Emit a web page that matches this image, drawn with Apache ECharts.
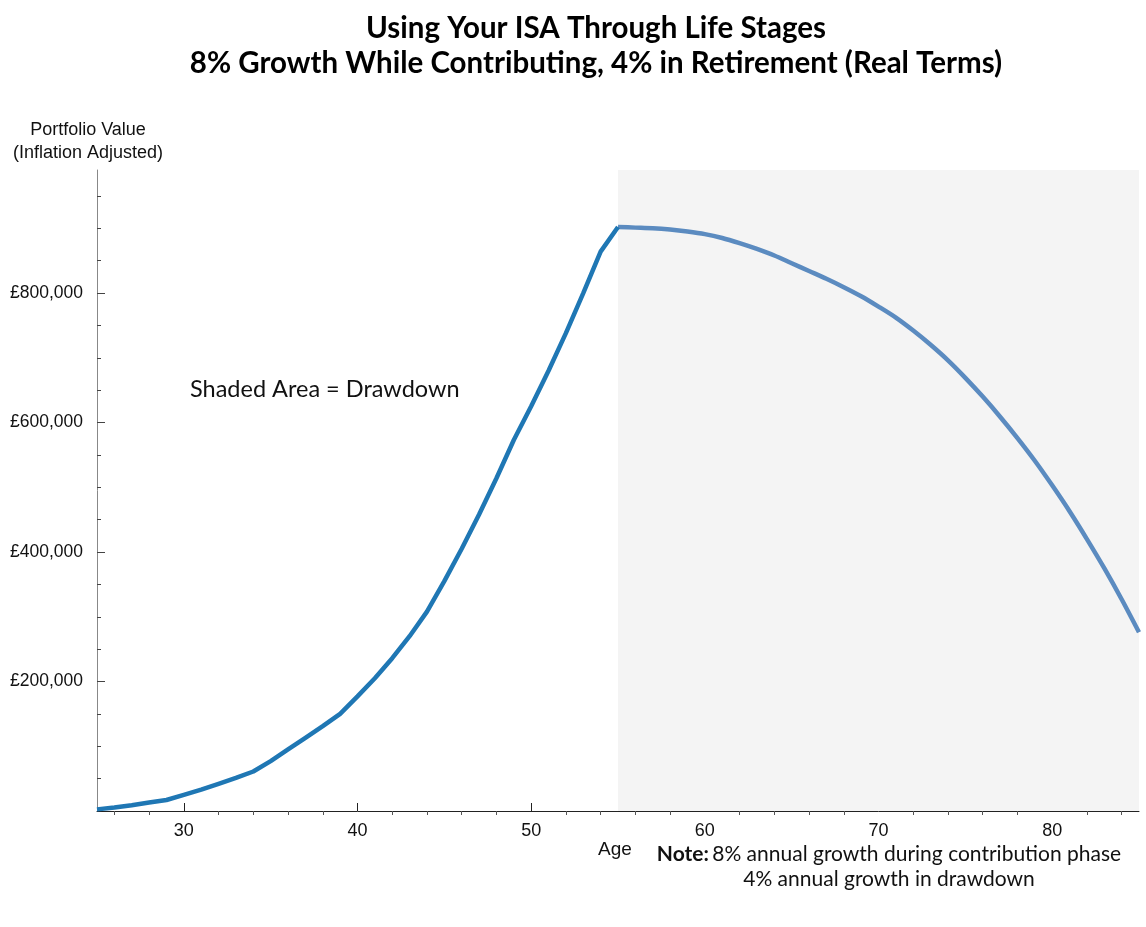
<!DOCTYPE html>
<html>
<head>
<meta charset="utf-8">
<script src="https://cdn.jsdelivr.net/npm/echarts@6/dist/echarts.min.js"></script>
<style>html,body{margin:0;padding:0;background:#fff}#c{width:1146px;height:927px}</style>
</head>
<body>
<div id="c"></div>
<script>
// ---- data ----
const contribAges = [25,26,27,28,29,30,31,32,33,34,35,36,37,38,39,40,41,42,43,44,45,46,47,48,49,50,51,52,53,54,55];
const contribValues = [2500,5500,9000,13000,17000,25000,33000,42000,51000,61000,77000,95000,113000,131000,150000,177000,205000,236000,270000,308000,355000,405000,458000,514000,573000,625000,680000,738000,800000,864000,902000];
const drawAges = [55,56,57,58,59,60,61,62,63,64,65,66,67,68,69,70,71,72,73,74,75,76,77,78,79,80,81,82,83,84,85];
const drawValues = [902000,901000,900000,898000,895000,891000,885000,877000,868000,858000,846000,834000,822000,809000,795000,779000,762000,742000,720000,696000,669000,640000,609000,576000,541000,503000,463000,420000,375000,327000,276000];
const xLabelTicks = [30,40,50,60,70,80];
const xMinorTicks = [26,28,32,34,36,38,42,44,46,48,52,54,56,58,62,64,66,68,72,74,76,78,82,84];
const yLabelTicks = [200000,400000,600000,800000];
const yMinorTicks = [50000,100000,150000,250000,300000,350000,450000,500000,550000,650000,700000,750000,850000,900000,950000];
const drawdownStart = 55, drawdownEnd = 85;

const chart = echarts.init(document.getElementById('c'), null, {renderer:'canvas'});
const fmtY = v => '£' + Math.round(v).toLocaleString('en-GB');
const baseX = {type:'value', min:25, max:85, splitLine:{show:false}};
const baseY = {type:'value', min:0, max:990000, splitLine:{show:false}};
const option = {
  animation:false,
  backgroundColor:'#fff',
  grid:{left:97, right:7, top:170, bottom:116, containLabel:false},
  xAxis:[
    Object.assign({}, baseX, {
      axisLine:{show:true, lineStyle:{color:'#222', width:1}},
      axisTick:{show:true, inside:true, length:8, customValues:xLabelTicks, lineStyle:{color:'#222'}},
      axisLabel:{show:true, customValues:xLabelTicks, margin:11, fontFamily:'Liberation Sans', fontSize:18, color:'#111'}
    }),
    Object.assign({}, baseX, {
      axisLine:{show:false},
      axisTick:{show:true, inside:true, length:4, customValues:xMinorTicks, lineStyle:{color:'#555'}},
      axisLabel:{show:false}
    })
  ],
  yAxis:[
    Object.assign({}, baseY, {
      axisLine:{show:true, lineStyle:{color:'#888', width:1}},
      axisTick:{show:true, inside:true, length:8, customValues:yLabelTicks, lineStyle:{color:'#444'}},
      axisLabel:{show:true, customValues:yLabelTicks, margin:14, formatter:fmtY, fontFamily:'Liberation Sans', fontSize:17.5, color:'#111'}
    }),
    Object.assign({}, baseY, {
      position:'left',
      axisLine:{show:false},
      axisTick:{show:true, inside:true, length:4, customValues:yMinorTicks, lineStyle:{color:'#444'}},
      axisLabel:{show:false}
    })
  ],
  series:[
    {
      type:'line', xAxisIndex:0, yAxisIndex:0, symbol:'none', z:3, smooth:0.3,
      data: drawAges.map((a,i)=>[a, drawValues[i]]),
      lineStyle:{color:'#5b8bc0', width:4.5},
      markArea:{silent:true, itemStyle:{color:'#f4f4f4'}, data:[[{xAxis:drawdownStart},{xAxis:drawdownEnd}]]}
    },
    {
      type:'line', xAxisIndex:0, yAxisIndex:0, symbol:'none', z:4,
      data: contribAges.map((a,i)=>[a, contribValues[i]]),
      lineStyle:{color:'#1f77b4', width:4.5}
    }
  ],
  graphic:[
    {type:'text', x:596, y:28, style:{text:'Using Your ISA Through Life Stages', font:'bold 29.5px Lato', fill:'#000', textAlign:'center', textVerticalAlign:'middle'}},
    {type:'text', x:596, y:63, style:{text:'8% Growth While Contributing, 4% in Retirement (Real Terms)', font:'bold 29.5px Lato', fill:'#000', textAlign:'center', textVerticalAlign:'middle'}},
    {type:'text', x:88, y:130, style:{text:'Portfolio Value', font:'18px "Liberation Sans"', fill:'#111', textAlign:'center', textVerticalAlign:'middle'}},
    {type:'text', x:88, y:153, style:{text:'(Inflation Adjusted)', font:'18px "Liberation Sans"', fill:'#111', textAlign:'center', textVerticalAlign:'middle'}},
    {type:'text', x:615, y:850, style:{text:'Age', font:'19px "Liberation Sans"', fill:'#111', textAlign:'center', textVerticalAlign:'middle'}},
    {type:'text', x:190, y:389, style:{text:'Shaded Area = Drawdown', font:'23.5px Lato', fill:'#111', textAlign:'left', textVerticalAlign:'middle'}},
    {type:'text', x:889, y:854, style:{
      text:'{b|Note:} {r|8% annual growth during contribution phase}',
      rich:{b:{fontFamily:'Lato', fontWeight:'bold', fontSize:21, fill:'#111'}, r:{fontFamily:'Lato', fontSize:21, fill:'#111'}},
      textAlign:'center', textVerticalAlign:'middle'}},
    {type:'text', x:889, y:879, style:{text:'4% annual growth in drawdown', font:'21px Lato', fill:'#111', textAlign:'center', textVerticalAlign:'middle'}}
  ]
};
chart.setOption(option);
</script>
</body>
</html>
